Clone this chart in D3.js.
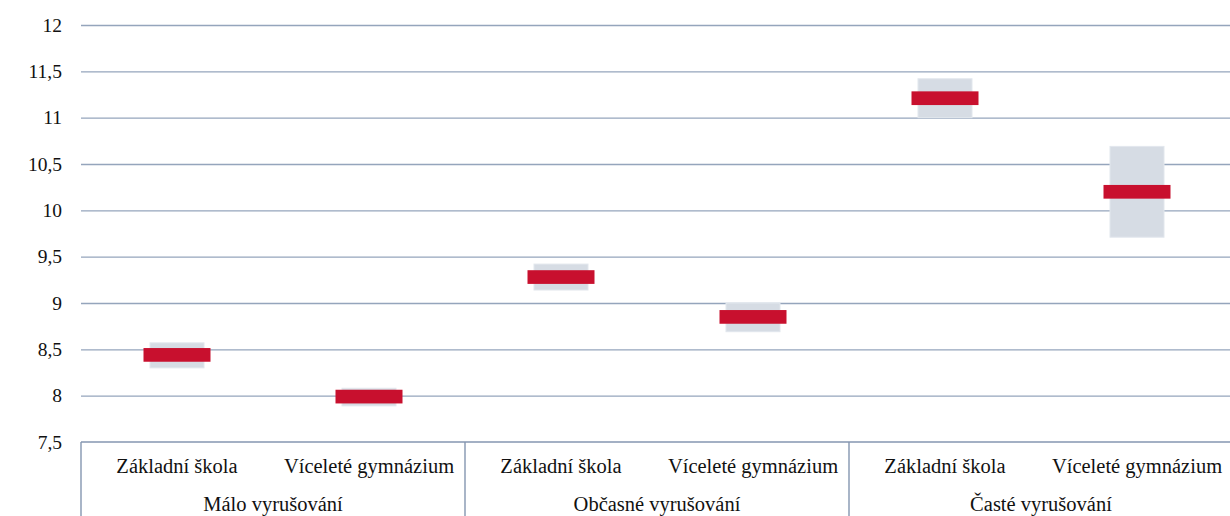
<!DOCTYPE html>
<html>
<head>
<meta charset="utf-8">
<script src="https://cdn.jsdelivr.net/npm/d3@7"></script>
</head>
<body style="margin:0">
<script>
// Data
var groups = ["Málo vyrušování", "Občasné vyrušování", "Časté vyrušování"];
var schools = ["Základní škola", "Víceleté gymnázium"];
// mean, lower and upper bound of the interval, in order group x school
var means = [8.44, 7.99, 9.28, 8.85, 11.21, 10.20];
var lower = [8.30, 7.89, 9.14, 8.69, 11.00, 9.71];
var upper = [8.57, 8.08, 9.42, 9.00, 11.42, 10.69];
var yTicks = [7.5, 8, 8.5, 9, 9.5, 10, 10.5, 11, 11.5, 12];

var W = 1230, H = 516;
var margin = {top: 25, right: -3, bottom: 74, left: 81};
var width = W - margin.left - margin.right,
    height = H - margin.top - margin.bottom;
var labelStyle = "font-family: 'Liberation Serif', 'Times New Roman', serif; font-size: 20.5px;";
var tickStyle = "font-family: 'Liberation Serif', 'Times New Roman', serif; font-size: 19.5px;";

var root = d3.select("body").append("svg")
    .attr("width", W).attr("height", H);
var svg = root.append("g")
    .attr("transform", "translate(" + margin.left + "," + margin.top + ")");

// Build rows from the arrays
var rows = [];
groups.forEach(function(g, gi) {
    schools.forEach(function(s, si) {
        var k = gi * schools.length + si;
        rows.push({key: g + "|" + s, group: g, school: s, mean: means[k], lo: lower[k], hi: upper[k]});
    });
});

var x = d3.scaleBand().domain(rows.map(function(d) { return d.key; })).range([0, width]);
var xg = d3.scaleBand().domain(groups).range([0, width]);
var y = d3.scaleLinear().domain([7.5, 12]).range([height, 0]);

var fmt = function(v) { return String(v).replace(".", ","); };

// Grid lines
svg.append("g")
    .call(d3.axisLeft(y).tickValues(yTicks).tickSize(-width).tickFormat(""))
    .call(function(g) {
        g.select(".domain").remove();
        g.selectAll(".tick line")
            .attr("stroke", "#95a5bc")
            .attr("stroke-width", 1.4)
            .attr("opacity", function(d) { return d === 7.5 ? 0 : 1; });
    });

// Y labels
svg.selectAll(".ylab")
    .data(yTicks)
    .enter().append("text")
    .attr("x", -19)
    .attr("y", function(d) { return y(d); })
    .attr("dy", "0.35em")
    .attr("text-anchor", "end")
    .attr("fill", "#111")
    .attr("style", tickStyle)
    .text(fmt);

// Interval boxes
var boxW = 54, meanW = 67, meanH = 13.7;
svg.selectAll(".box")
    .data(rows)
    .enter().append("rect")
    .attr("x", function(d) { return x(d.key) + x.bandwidth() / 2 - boxW / 2; })
    .attr("y", function(d) { return y(d.hi); })
    .attr("width", boxW)
    .attr("height", function(d) { return y(d.lo) - y(d.hi); })
    .attr("fill", "#d6dce4")
    .attr("stroke", "#e2e7ed")
    .attr("stroke-width", 1);

// Mean markers
svg.selectAll(".mean")
    .data(rows)
    .enter().append("rect")
    .attr("x", function(d) { return x(d.key) + x.bandwidth() / 2 - meanW / 2; })
    .attr("y", function(d) { return y(d.mean) - meanH / 2; })
    .attr("width", meanW)
    .attr("height", meanH)
    .attr("fill", "#c8102e");

// Category axis box
var axisG = svg.append("g").attr("transform", "translate(0," + height + ")");
axisG.append("line")
    .attr("x1", 0).attr("x2", width)
    .attr("y1", 0).attr("y2", 0)
    .attr("stroke", "#8496b0").attr("stroke-width", 1.4);

axisG.selectAll(".sep")
    .data(groups.concat(["end"]))
    .enter().append("line")
    .attr("x1", function(d, i) { return i < groups.length ? xg(d) : width; })
    .attr("x2", function(d, i) { return i < groups.length ? xg(d) : width; })
    .attr("y1", 0).attr("y2", margin.bottom)
    .attr("stroke", "#8496b0").attr("stroke-width", 1.4);

axisG.selectAll(".sub")
    .data(rows)
    .enter().append("text")
    .attr("x", function(d) { return x(d.key) + x.bandwidth() / 2; })
    .attr("y", 31)
    .attr("text-anchor", "middle")
    .attr("fill", "#111")
    .attr("style", labelStyle)
    .text(function(d) { return d.school; });

axisG.selectAll(".grp")
    .data(groups)
    .enter().append("text")
    .attr("x", function(d) { return xg(d) + xg.bandwidth() / 2; })
    .attr("y", 69)
    .attr("text-anchor", "middle")
    .attr("fill", "#111")
    .attr("style", labelStyle)
    .text(function(d) { return d; });
</script>
</body>
</html>
